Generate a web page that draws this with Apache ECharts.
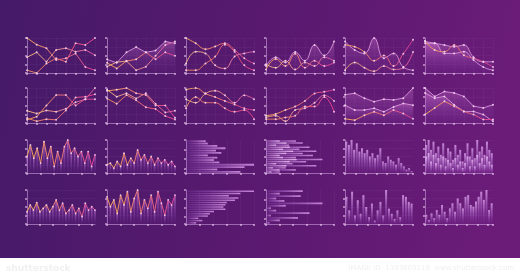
<!DOCTYPE html>
<html><head><meta charset="utf-8">
<script src="https://cdn.jsdelivr.net/npm/echarts@6/dist/echarts.min.js"></script>
<style>html,body{margin:0;padding:0;background:#4f1a6e}#c{width:520px;height:280px}</style>
</head><body><div id="c"></div>
<script>
// ---------- data ----------
const lineCats = ['1','2','3','4','5','6','7','8'];
const yTicks = [0,25,50,75,100];
// row 1
const c1a=[100,81,71,37,42,56,17,8], c1b=[45,59,32,66,71,61,66,51], c1c=[8,0,27,42,32,85,80,100];
const c2a=[39,29,59,74,59,64,90,85], c2b=[29,13,34,39,59,39,59,49], c2c=[18,31,34,8,18,49,80,90];
const c3a=[100,85,68,76,85,66,42,27], c3b=[27,61,56,22,13,47,56,61], c3c=[8,8,27,47,81,61,22,8];
const c4a=[20,45,30,60,35,80,50,90], c4b=[10,40,20,55,15,35,20,30], c4c=[25,15,35,10,30,20,45,35];
const c5a=[90,66,56,100,42,56,17,8], c5b=[80,75,60,35,50,20,55,95], c5c=[8,30,15,5,20,10,15,60];
const c6a=[90,85,80,75,80,45,32,32], c6b=[85,85,56,56,61,37,17,8], c6c=[92,66,61,80,51,42,32,17];
// row 2
const c7a=[9,18,50,80,80,50,68,68], c7b=[35,27,36,32,41,59,68,100], c7c=[14,5,11,9,36,73,75,82];
const c8a=[92,95,100,85,80,50,50,15], c8b=[95,75,85,70,85,55,30,35], c8c=[70,55,80,65,45,40,20,10];
const c9a=[95,100,84,74,63,53,42,37], c9b=[68,58,84,92,79,58,79,68], c9c=[42,74,58,58,42,32,37,11];
const c10a=[21,26,37,47,63,84,89,95], c10b=[16,21,5,37,42,58,79,63], c10c=[11,11,16,21,47,47,74,32];
const c11a=[81,85,71,61,68,66,71,100], c11b=[51,37,37,42,32,46,56,51], c11c=[12,8,22,32,22,37,27,12];
const c12a=[100,76,90,86,76,48,43,52], c12b=[86,71,76,52,33,33,24,5], c12c=[24,43,62,48,33,24,10,10];
// row 3
const c13=[50,85,45,75,30,95,45,80,20,65,30,80,100,60,75,50,65,30,65,20,55];
const c14=[25,30,15,35,20,60,25,45,30,70,40,55,30,50,25,45,30,40,25,35,20];
const c15=[29,32,46,58,44,52,32,46,41,49,100,86,46,80];
const c16a=[44,54,34,64,49,74,54,69,44,83,59,39,74,29,44,20];
const c16b=[20,30,15,35,25,40,30,20,25,45,35,15,30,10,20,8];
const c17=[95,85,100,70,90,65,75,60,70,50,60,45,55,75,35,30,50,40,35,25,45,30,20,10,15,5];
const c18a=[85,100,70,95,60,80,55,90,45,75,65,40,85,55,70,35,60,90,50,75,45,100,65,80,55,95,70,60];
const c18b=[50,60,35,55,30,45,25,50,20,40,30,15,45,25,35,15,30,50,20,40,20,55,30,45,25,50,35,25];
// row 4
const c19=[36,56,41,63,36,46,56,36,51,71,41,61,31,41,56,31,46,22,61,41,51,41];
const c20=[80,51,71,31,85,56,95,36,75,100,31,71,46,85,36,95,61,26,71,56,85];
const c21=[100,80,63,77,72,60,58,55,58,41,35,32,18,24,15];
const c22=[54,20,51,15,27,83,29,7,15,64,7,47,20,5];
const c23=[80,40,95,25,70,30,85,50,20,60,10,40,65,25,100,45,30,15,40,20,85,80,65,60];
const c24=[27,12,31,17,41,27,56,36,17,46,61,36,75,61,46,80,85,56,51,66,80,95,71,100,41,61];

// ---------- styling / layout ----------
const AX='rgba(225,180,240,0.5)', TK='rgba(245,215,250,0.7)', SPL='rgba(255,255,255,0.03)';
const cols=[27,107,186,266,345,425], W=68;
const rowsY=[[38,35],[88,35],[140,33],[190,34]];
function lg(x2,y2,stops){return new echarts.graphic.LinearGradient(0,0,x2,y2,stops.map((c,i)=>({offset:i/(stops.length-1),color:c})));}
const lineGrad=[['#f0a355','#d8379a'],['#e9b27a','#d54fa4'],['#e58a58','#e23a94']];
const DOT='rgba(255,225,250,0.8)';

const specs=[
 {t:'line',s:false,lines:[c1a,c1b,c1c]},
 {t:'line',s:false,areas:[c2a],lines:[c2b,c2c]},
 {t:'line',s:true,lines:[c3a,c3b,c3c]},
 {t:'line',s:true,areas:[c4a],lines:[c4b,c4c]},
 {t:'line',s:true,areas:[c5a],lines:[c5b,c5c]},
 {t:'line',s:true,areas:[c6a,c6b],lines:[c6c]},
 {t:'line',s:false,lines:[c7a,c7b,c7c]},
 {t:'line',s:false,lines:[c8a,c8b,c8c]},
 {t:'line',s:true,lines:[c9a,c9b,c9c]},
 {t:'line',s:true,lines:[c10a,c10b,c10c]},
 {t:'line',s:false,areas:[c11a,c11b],lines:[c11c]},
 {t:'line',s:false,areas:[c12a,c12b],lines:[c12c]},
 {t:'zig',d:c13},{t:'zig',d:c14},{t:'hbar',d:[c15]},{t:'hbar',d:[c16a,c16b]},{t:'vbar',d:[c17]},{t:'vbar',d:[c18a,c18b]},
 {t:'zig',d:c19},{t:'zig',d:c20},{t:'hbar',d:[c21]},{t:'hbar',d:[c22]},{t:'vbar',d:[c23]},{t:'vbar',d:[c24]}
];

const option={animation:false,grid:[],xAxis:[],yAxis:[],series:[],
 graphic:[
  {type:'rect',z:-100,silent:true,shape:{x:0,y:0,width:520,height:258},style:{fill:lg(1,0.4,['#451a68','#58196f','#6b1c79'])}},
  {type:'rect',z:-100,silent:true,shape:{x:0,y:258,width:520,height:22},style:{fill:'#ffffff'}},
  {type:'text',silent:true,left:6,top:264,style:{text:'shutterstock',fill:'#f0f0f0',font:'bold 9px "DejaVu Sans"'}},
  {type:'text',silent:true,right:6,top:265,style:{text:'IMAGE ID: 1393803119  www.shutterstock.com',fill:'#f0f0f0',font:'7px "DejaVu Sans"'}}
 ]};

const axLine={show:true,lineStyle:{color:AX,width:1}};
const tick={show:true,length:2,lineStyle:{color:TK,width:1.5}};
const noLab={show:false};
const split={show:true,lineStyle:{color:SPL,width:1}};
const cats=n=>Array.from({length:n},(_,i)=>String(i+1));

specs.forEach((sp,i)=>{
 const r=Math.floor(i/6), c=i%6;
 option.grid.push({left:cols[c],top:rowsY[r][0],width:W,height:rowsY[r][1]});
 const g=i;
 if(sp.t==='hbar'){
  const n=sp.d[0].length;
  option.xAxis.push({type:'value',gridIndex:g,min:0,max:100,interval:20,axisLine:axLine,axisTick:tick,axisLabel:noLab,splitLine:split});
  option.yAxis.push({type:'category',gridIndex:g,inverse:true,data:cats(n),axisLine:axLine,axisTick:Object.assign({},tick,{interval:3}),axisLabel:noLab,splitLine:{show:false}});
  sp.d.forEach((arr,k)=>option.series.push({type:'bar',xAxisIndex:g,yAxisIndex:g,data:arr,barWidth:n>14?1.5:1.8,barGap:'-100%',
   itemStyle:{color:k===0?lg(1,0,['rgba(165,90,210,0.15)','rgba(225,160,240,0.8)']):lg(1,0,['rgba(220,160,240,0.25)','rgba(245,200,250,0.8)'])}}));
 } else {
  const n=sp.t==='line'?8:(sp.t==='zig'?sp.d.length:sp.d[0].length);
  const data=sp.t==='line'?lineCats:cats(n);
  option.xAxis.push({type:'category',gridIndex:g,data:data,boundaryGap:sp.t==='vbar',axisLine:axLine,
   axisTick:Object.assign({},tick,{interval:sp.t==='line'?0:3}),axisLabel:noLab,splitLine:sp.t==='line'?split:{show:false}});
  option.yAxis.push({type:'value',gridIndex:g,min:0,max:100,interval:25,axisLine:axLine,axisTick:tick,axisLabel:noLab,splitLine:split});
  if(sp.t==='line'){
   (sp.areas||[]).forEach(arr=>option.series.push({type:'line',xAxisIndex:g,yAxisIndex:g,data:arr,smooth:sp.s?0.45:false,
    symbol:'circle',symbolSize:2,itemStyle:{color:DOT},lineStyle:{width:1,color:'rgba(230,160,230,0.8)'},
    areaStyle:{color:lg(0,1,['rgba(220,125,215,0.5)','rgba(120,55,165,0.05)'])}}));
   sp.lines.forEach((arr,k)=>option.series.push({type:'line',xAxisIndex:g,yAxisIndex:g,data:arr,smooth:sp.s?0.45:false,
    symbol:'circle',symbolSize:2,itemStyle:{color:DOT},lineStyle:{width:1,color:lg(1,0,lineGrad[k%3])}}));
  } else if(sp.t==='zig'){
   option.series.push({type:'bar',xAxisIndex:g,yAxisIndex:g,data:sp.d,barWidth:1.5,
    itemStyle:{color:lg(0,1,['rgba(225,150,235,0.6)','rgba(150,70,200,0.02)'])}});
   option.series.push({type:'line',xAxisIndex:g,yAxisIndex:g,data:sp.d,symbol:'circle',symbolSize:1.8,itemStyle:{color:DOT},
    lineStyle:{width:1,color:lg(1,0,['#eea555','#d93d9c'])},areaStyle:{color:lg(0,1,['rgba(200,100,210,0.4)','rgba(120,50,170,0.02)'])}});
  } else {
   sp.d.forEach((arr,k)=>option.series.push({type:'bar',xAxisIndex:g,yAxisIndex:g,data:arr,barWidth:2,barGap:'-100%',
    itemStyle:{color:k===0?lg(0,1,['rgba(225,165,240,0.8)','rgba(150,75,200,0.06)']):lg(0,1,['rgba(240,195,250,0.8)','rgba(180,100,220,0.08)'])}}));
  }
 }
});

const chart=echarts.init(document.getElementById('c'));
chart.setOption(option);
</script></body></html>
